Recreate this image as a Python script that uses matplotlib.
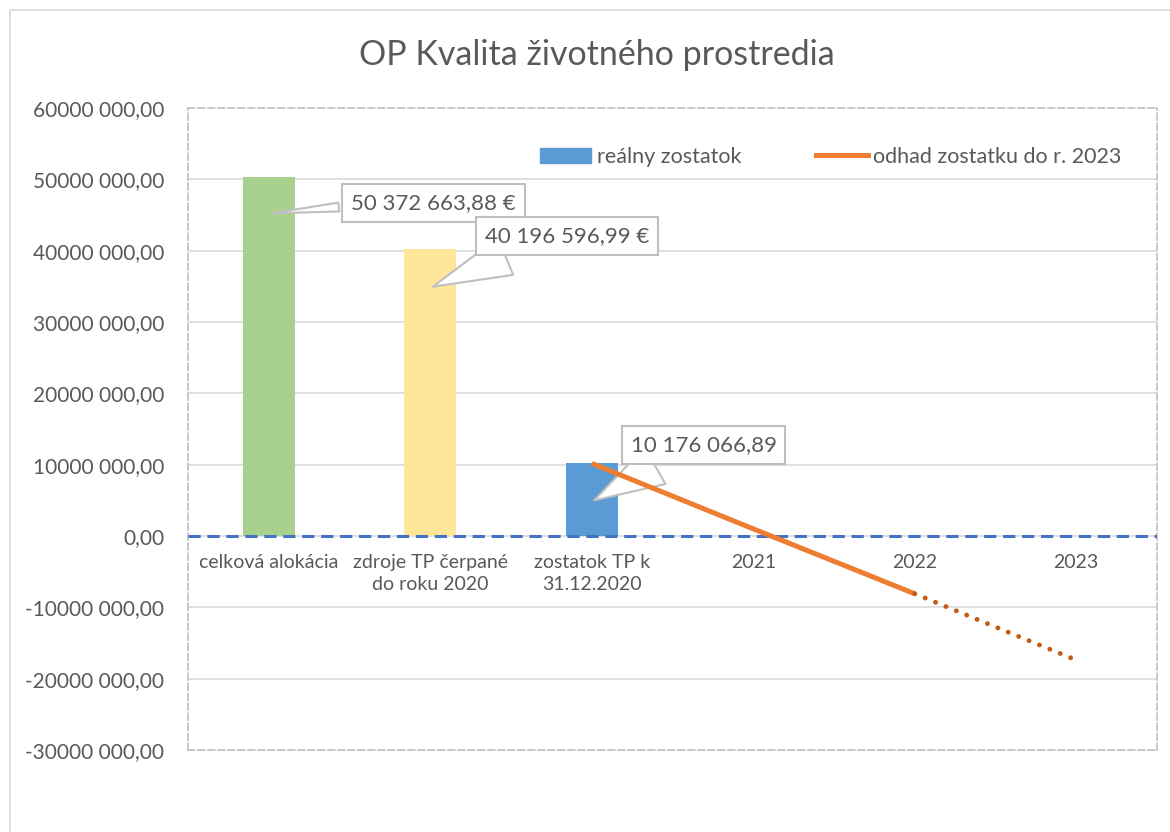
import matplotlib.pyplot as plt
from matplotlib.patches import Patch, Rectangle
from matplotlib.lines import Line2D
import matplotlib.ticker as mticker

plt.rcParams['font.family'] = ['Lato', 'DejaVu Sans']

categories = ["celková alokácia", "zdroje TP čerpané\ndo roku 2020", "zostatok TP k\n31.12.2020",
              "2021", "2022", "2023"]
bar_values = [50372663.88, 40196596.99, 10176066.89]
bar_colors = ["#A9D18E", "#FFE699", "#5B9BD5"]
bar_labels = ["50 372 663,88 €", "40 196 596,99 €", "10 176 066,89"]

# estimated remainder 2020 -> 2023
est_x = [2, 3, 4, 5]
est_values = [10176066.89, 1000000, -8100000, -17400000]

yticks = [-30e6, -20e6, -10e6, 0, 10e6, 20e6, 30e6, 40e6, 50e6, 60e6]

txt = "#595959"
grid = "#D9D9D9"

fig = plt.figure(figsize=(11.7, 8.32), dpi=100)
fig.patches.append(Rectangle((0.0085, -0.1), 1.1, 1.088, transform=fig.transFigure,
                             fill=False, ec=grid, lw=1.2))
ax = fig.add_axes([0.1607, 0.0986, 0.8282, 0.7716])

ax.set_xlim(-0.5, 5.5)
ax.set_ylim(-30e6, 60e6)
ax.set_yticks(yticks)
for y in yticks[1:-1]:
    ax.axhline(y, color=grid, lw=1.2, zorder=0)

def fmt(v, pos):
    if v == 0:
        return "0,00"
    return "%d 000,00" % (v / 1000)
ax.yaxis.set_major_formatter(mticker.FuncFormatter(fmt))
ax.tick_params(axis='y', length=0, pad=17, labelsize=15, labelcolor=txt)
ax.tick_params(axis='x', length=0, labelbottom=False)
for s in ax.spines.values():
    s.set_linestyle((0, (4, 2)))
    s.set_color("#BFBFBF")
    s.set_linewidth(1.2)

ax.bar(range(3), bar_values, width=0.32, color=bar_colors, zorder=2)
ax.axhline(0, color="#4472C4", lw=2.2, ls=(0, (4, 2.2)), zorder=3)

ax.plot(est_x[:3], est_values[:3], color="#ED7D31", lw=3.6, solid_capstyle='butt', zorder=7)
ax.plot(est_x[2:], est_values[2:], color="#C55A11", lw=3.5, ls=(0, (0.01, 2.3)),
        dash_capstyle='round', zorder=7)

for i, c in enumerate(categories):
    ax.text(i, -2.5e6, c, ha='center', va='top', fontsize=14, color=txt,
            linespacing=1.35, zorder=5,
            bbox=dict(fc='white', ec='none', alpha=0.8, pad=1))

# callouts
box_pos = [(0.51, 46.7e6), (1.34, 42.1e6), (2.24, 12.8e6)]
point_pos = [(0, 45.2e6), (1, 34.8e6), (2, 4.8e6)]
rel = [(0.0, 0.35), (0.28, 0.0), (0.3, 0.0)]
tails = [0.4, 1.8, 1.9]
for (bx, by), (px, py), r, tw, lab in zip(box_pos, point_pos, rel, tails, bar_labels):
    ax.annotate(lab, xy=(px, py), xytext=(bx, by), fontsize=16, color=txt,
                ha='left', va='center', zorder=6,
                bbox=dict(boxstyle='square,pad=0.4', fc='white', ec='#BFBFBF', lw=1.5),
                arrowprops=dict(arrowstyle='wedge,tail_width=%s,shrink_factor=0.5' % tw,
                                fc='white', ec='#BFBFBF', lw=1.5, relpos=r))

handles = [Patch(color="#5B9BD5"), Line2D([], [], color="#ED7D31", lw=3.6)]
ax.legend(handles, ["reálny zostatok", "odhad zostatku do r. 2023"], ncol=2,
          loc='center left', bbox_to_anchor=(0.363, 0.924), frameon=False,
          borderpad=0, borderaxespad=0,
          fontsize=15.5, labelcolor=txt, handlelength=2.4, handletextpad=0.27,
          columnspacing=3.45)

fig.text(0.51, 0.934, "OP Kvalita životného prostredia", ha='center', va='center',
         fontsize=24.5, color=txt)

fig.savefig("out.png", dpi=100)
